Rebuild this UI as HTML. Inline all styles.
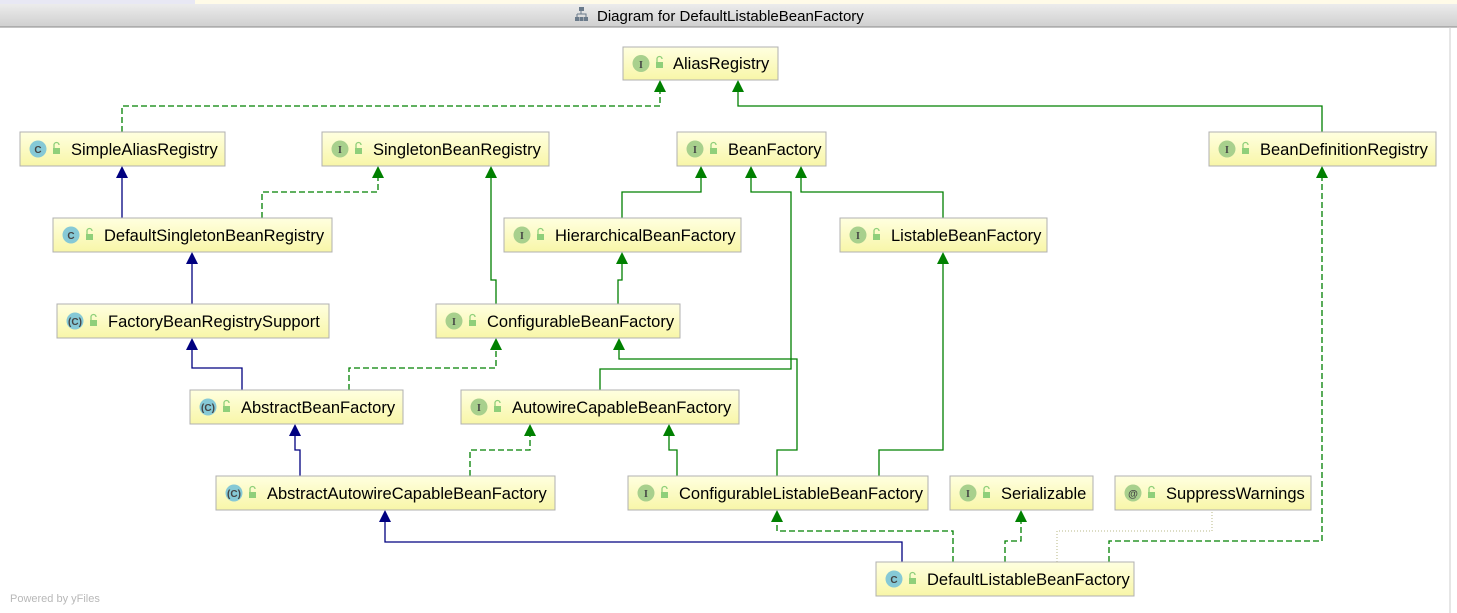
<!DOCTYPE html>
<html><head><meta charset="utf-8"><style>
html,body{margin:0;padding:0;background:#fff;width:1457px;height:613px;overflow:hidden;font-family:"Liberation Sans","DejaVu Sans",sans-serif}
</style></head><body>
<svg width="1457" height="613" viewBox="0 0 1457 613" xmlns="http://www.w3.org/2000/svg" font-family="Liberation Sans, DejaVu Sans, sans-serif">
<defs>
<linearGradient id="tb" x1="0" y1="0" x2="0" y2="1"><stop offset="0" stop-color="#ececec"/><stop offset="1" stop-color="#cfcfcf"/></linearGradient>
<linearGradient id="nb" x1="0" y1="0" x2="0" y2="1"><stop offset="0" stop-color="#ffffe0"/><stop offset="1" stop-color="#f8f6a8"/></linearGradient>
</defs>
<rect x="0" y="0" width="1457" height="4" fill="#e8e8f4"/>
<rect x="195" y="0" width="1262" height="4" fill="#fffbe8"/>
<rect x="0" y="4" width="1457" height="23" fill="url(#tb)"/>
<line x1="0" y1="27" x2="1457" y2="27" stroke="#8a8a8a"/>
<g fill="#6a7a8a"><rect x="579" y="7" width="5" height="4"/><rect x="575" y="17" width="4" height="4"/><rect x="579.5" y="17" width="4" height="4"/><rect x="584" y="17" width="4" height="4"/><path d="M581 11v3M577 14h9v3M577 14v3M586 14v3" stroke="#6a7a8a" fill="none"/></g>
<text x="597" y="21" font-size="15" fill="#000">Diagram for DefaultListableBeanFactory</text>
<line x1="1450" y1="27" x2="1450" y2="613" stroke="#ccc"/>

<g fill="none" stroke-width="1.3">
<g stroke="#008000">
<polyline points="1322,132 1322,106 738,106 738,90"/>
<polyline points="496,304 496,280 491,280 491,176"/>
<polyline points="622,218 622,192 701,192 701,176"/>
<polyline points="943,218 943,192 801,192 801,176"/>
<polyline points="600,390 600,369 791,369 791,192 751,192 751,176"/>
<polyline points="618,304 618,280 622,280 622,262"/>
<polyline points="777,476 777,450 797,450 797,359 619,359 619,348"/>
<polyline points="879,476 879,450 943,450 943,262"/>
<polyline points="677,476 677,450 669,450 669,434"/>
</g>
<g stroke="#008000" stroke-dasharray="6,3">
<polyline points="122,132 122,106 660,106 660,90"/>
<polyline points="262,218 262,192 378,192 378,176"/>
<polyline points="349,390 349,368 496,368 496,348"/>
<polyline points="470,476 470,450 530,450 530,434"/>
<polyline points="953,562 953,531 777,531 777,520"/>
<polyline points="1005,562 1005,541 1021,541 1021,520"/>
<polyline points="1109,562 1109,541 1322,541 1322,176"/>
</g>
<g stroke="#000080">
<polyline points="122,218 122,176"/>
<polyline points="192,304 192,262"/>
<polyline points="242,390 242,368 192,368 192,348"/>
<polyline points="300,476 300,450 295,450 295,434"/>
<polyline points="902,562 902,542 385,542 385,520"/>
</g>
<polyline points="1057,562 1057,531 1212,531 1212,512" stroke="#c8c8a0" stroke-dasharray="1,2"/>
</g>
<g fill="#008000">
<path d="M738,80 l-6,12 h12z"/><path d="M660,80 l-6,12 h12z"/>
<path d="M491,166 l-6,12 h12z"/><path d="M378,166 l-6,12 h12z"/>
<path d="M701,166 l-6,12 h12z"/><path d="M751,166 l-6,12 h12z"/><path d="M801,166 l-6,12 h12z"/>
<path d="M1322,166 l-6,12 h12z"/>
<path d="M622,252 l-6,12 h12z"/><path d="M943,252 l-6,12 h12z"/>
<path d="M496,338 l-6,12 h12z"/><path d="M619,338 l-6,12 h12z"/>
<path d="M530,424 l-6,12 h12z"/><path d="M669,424 l-6,12 h12z"/>
<path d="M777,510 l-6,12 h12z"/><path d="M1021,510 l-6,12 h12z"/>
</g>
<g fill="#000080">
<path d="M122,166 l-6,12 h12z"/><path d="M192,252 l-6,12 h12z"/><path d="M192,338 l-6,12 h12z"/>
<path d="M295,424 l-6,12 h12z"/><path d="M385,510 l-6,12 h12z"/>
</g>

<g font-size="16.5" fill="#000">
<g transform="translate(623,47)"><rect width="155" height="33" fill="url(#nb)" stroke="#b0b0b0"/><circle cx="18" cy="16.5" r="8.5" fill="#a8d08d"/><text x="18" y="21" font-size="10" text-anchor="middle" font-weight="bold" fill="#444" font-family="Liberation Serif,serif">I</text><rect x="33" y="15" width="7" height="6" fill="#8fcf7a"/><path d="M34 15v-3a2.5 2.5 0 0 1 5 0" stroke="#8fcf7a" fill="none" stroke-width="1.3"/><text x="50" y="22">AliasRegistry</text></g>
<g transform="translate(20,132)"><rect width="205" height="34" fill="url(#nb)" stroke="#b0b0b0"/><circle cx="18" cy="17" r="8.5" fill="#86c9d6"/><text x="18" y="21" font-size="10" text-anchor="middle" font-weight="bold" fill="#444">C</text><rect x="33" y="16" width="7" height="6" fill="#8fcf7a"/><path d="M34 16v-3a2.5 2.5 0 0 1 5 0" stroke="#8fcf7a" fill="none" stroke-width="1.3"/><text x="51" y="23">SimpleAliasRegistry</text></g>
<g transform="translate(322,132)"><rect width="227" height="34" fill="url(#nb)" stroke="#b0b0b0"/><circle cx="18" cy="17" r="8.5" fill="#a8d08d"/><text x="18" y="21" font-size="10" text-anchor="middle" font-weight="bold" fill="#444" font-family="Liberation Serif,serif">I</text><rect x="33" y="16" width="7" height="6" fill="#8fcf7a"/><path d="M34 16v-3a2.5 2.5 0 0 1 5 0" stroke="#8fcf7a" fill="none" stroke-width="1.3"/><text x="51" y="23">SingletonBeanRegistry</text></g>
<g transform="translate(677,132)"><rect width="149" height="34" fill="url(#nb)" stroke="#b0b0b0"/><circle cx="18" cy="17" r="8.5" fill="#a8d08d"/><text x="18" y="21" font-size="10" text-anchor="middle" font-weight="bold" fill="#444" font-family="Liberation Serif,serif">I</text><rect x="33" y="16" width="7" height="6" fill="#8fcf7a"/><path d="M34 16v-3a2.5 2.5 0 0 1 5 0" stroke="#8fcf7a" fill="none" stroke-width="1.3"/><text x="51" y="23">BeanFactory</text></g>
<g transform="translate(1209,132)"><rect width="227" height="34" fill="url(#nb)" stroke="#b0b0b0"/><circle cx="18" cy="17" r="8.5" fill="#a8d08d"/><text x="18" y="21" font-size="10" text-anchor="middle" font-weight="bold" fill="#444" font-family="Liberation Serif,serif">I</text><rect x="33" y="16" width="7" height="6" fill="#8fcf7a"/><path d="M34 16v-3a2.5 2.5 0 0 1 5 0" stroke="#8fcf7a" fill="none" stroke-width="1.3"/><text x="51" y="23">BeanDefinitionRegistry</text></g>
<g transform="translate(53,218)"><rect width="279" height="34" fill="url(#nb)" stroke="#b0b0b0"/><circle cx="18" cy="17" r="8.5" fill="#86c9d6"/><text x="18" y="21" font-size="10" text-anchor="middle" font-weight="bold" fill="#444">C</text><rect x="33" y="16" width="7" height="6" fill="#8fcf7a"/><path d="M34 16v-3a2.5 2.5 0 0 1 5 0" stroke="#8fcf7a" fill="none" stroke-width="1.3"/><text x="51" y="23">DefaultSingletonBeanRegistry</text></g>
<g transform="translate(504,218)"><rect width="237" height="34" fill="url(#nb)" stroke="#b0b0b0"/><circle cx="18" cy="17" r="8.5" fill="#a8d08d"/><text x="18" y="21" font-size="10" text-anchor="middle" font-weight="bold" fill="#444" font-family="Liberation Serif,serif">I</text><rect x="33" y="16" width="7" height="6" fill="#8fcf7a"/><path d="M34 16v-3a2.5 2.5 0 0 1 5 0" stroke="#8fcf7a" fill="none" stroke-width="1.3"/><text x="51" y="23">HierarchicalBeanFactory</text></g>
<g transform="translate(840,218)"><rect width="207" height="34" fill="url(#nb)" stroke="#b0b0b0"/><circle cx="18" cy="17" r="8.5" fill="#a8d08d"/><text x="18" y="21" font-size="10" text-anchor="middle" font-weight="bold" fill="#444" font-family="Liberation Serif,serif">I</text><rect x="33" y="16" width="7" height="6" fill="#8fcf7a"/><path d="M34 16v-3a2.5 2.5 0 0 1 5 0" stroke="#8fcf7a" fill="none" stroke-width="1.3"/><text x="51" y="23">ListableBeanFactory</text></g>
<g transform="translate(57,304)"><rect width="272" height="34" fill="url(#nb)" stroke="#b0b0b0"/><circle cx="18" cy="17" r="8.5" fill="#86c9d6"/><text x="18" y="21" font-size="10" text-anchor="middle" font-weight="bold" fill="#444">(C)</text><rect x="33" y="16" width="7" height="6" fill="#8fcf7a"/><path d="M34 16v-3a2.5 2.5 0 0 1 5 0" stroke="#8fcf7a" fill="none" stroke-width="1.3"/><text x="51" y="23">FactoryBeanRegistrySupport</text></g>
<g transform="translate(436,304)"><rect width="244" height="34" fill="url(#nb)" stroke="#b0b0b0"/><circle cx="18" cy="17" r="8.5" fill="#a8d08d"/><text x="18" y="21" font-size="10" text-anchor="middle" font-weight="bold" fill="#444" font-family="Liberation Serif,serif">I</text><rect x="33" y="16" width="7" height="6" fill="#8fcf7a"/><path d="M34 16v-3a2.5 2.5 0 0 1 5 0" stroke="#8fcf7a" fill="none" stroke-width="1.3"/><text x="51" y="23">ConfigurableBeanFactory</text></g>
<g transform="translate(190,390)"><rect width="213" height="34" fill="url(#nb)" stroke="#b0b0b0"/><circle cx="18" cy="17" r="8.5" fill="#86c9d6"/><text x="18" y="21" font-size="10" text-anchor="middle" font-weight="bold" fill="#444">(C)</text><rect x="33" y="16" width="7" height="6" fill="#8fcf7a"/><path d="M34 16v-3a2.5 2.5 0 0 1 5 0" stroke="#8fcf7a" fill="none" stroke-width="1.3"/><text x="51" y="23">AbstractBeanFactory</text></g>
<g transform="translate(461,390)"><rect width="278" height="34" fill="url(#nb)" stroke="#b0b0b0"/><circle cx="18" cy="17" r="8.5" fill="#a8d08d"/><text x="18" y="21" font-size="10" text-anchor="middle" font-weight="bold" fill="#444" font-family="Liberation Serif,serif">I</text><rect x="33" y="16" width="7" height="6" fill="#8fcf7a"/><path d="M34 16v-3a2.5 2.5 0 0 1 5 0" stroke="#8fcf7a" fill="none" stroke-width="1.3"/><text x="51" y="23">AutowireCapableBeanFactory</text></g>
<g transform="translate(216,476)"><rect width="339" height="34" fill="url(#nb)" stroke="#b0b0b0"/><circle cx="18" cy="17" r="8.5" fill="#86c9d6"/><text x="18" y="21" font-size="10" text-anchor="middle" font-weight="bold" fill="#444">(C)</text><rect x="33" y="16" width="7" height="6" fill="#8fcf7a"/><path d="M34 16v-3a2.5 2.5 0 0 1 5 0" stroke="#8fcf7a" fill="none" stroke-width="1.3"/><text x="51" y="23">AbstractAutowireCapableBeanFactory</text></g>
<g transform="translate(628,476)"><rect width="300" height="34" fill="url(#nb)" stroke="#b0b0b0"/><circle cx="18" cy="17" r="8.5" fill="#a8d08d"/><text x="18" y="21" font-size="10" text-anchor="middle" font-weight="bold" fill="#444" font-family="Liberation Serif,serif">I</text><rect x="33" y="16" width="7" height="6" fill="#8fcf7a"/><path d="M34 16v-3a2.5 2.5 0 0 1 5 0" stroke="#8fcf7a" fill="none" stroke-width="1.3"/><text x="51" y="23">ConfigurableListableBeanFactory</text></g>
<g transform="translate(950,476)"><rect width="143" height="34" fill="url(#nb)" stroke="#b0b0b0"/><circle cx="18" cy="17" r="8.5" fill="#a8d08d"/><text x="18" y="21" font-size="10" text-anchor="middle" font-weight="bold" fill="#444" font-family="Liberation Serif,serif">I</text><rect x="33" y="16" width="7" height="6" fill="#8fcf7a"/><path d="M34 16v-3a2.5 2.5 0 0 1 5 0" stroke="#8fcf7a" fill="none" stroke-width="1.3"/><text x="51" y="23">Serializable</text></g>
<g transform="translate(1115,476)"><rect width="196" height="34" fill="url(#nb)" stroke="#b0b0b0"/><circle cx="18" cy="17" r="8.5" fill="#a8d08d"/><text x="18" y="21" font-size="10" text-anchor="middle" font-weight="bold" fill="#444">@</text><rect x="33" y="16" width="7" height="6" fill="#8fcf7a"/><path d="M34 16v-3a2.5 2.5 0 0 1 5 0" stroke="#8fcf7a" fill="none" stroke-width="1.3"/><text x="51" y="23">SuppressWarnings</text></g>
<g transform="translate(876,562)"><rect width="258" height="34" fill="url(#nb)" stroke="#b0b0b0"/><circle cx="18" cy="17" r="8.5" fill="#86c9d6"/><text x="18" y="21" font-size="10" text-anchor="middle" font-weight="bold" fill="#444">C</text><rect x="33" y="16" width="7" height="6" fill="#8fcf7a"/><path d="M34 16v-3a2.5 2.5 0 0 1 5 0" stroke="#8fcf7a" fill="none" stroke-width="1.3"/><text x="51" y="23">DefaultListableBeanFactory</text></g>
</g>
<text x="10" y="602" font-size="11" fill="#b8b8b8">Powered by yFiles</text>
</svg>
</body></html>
